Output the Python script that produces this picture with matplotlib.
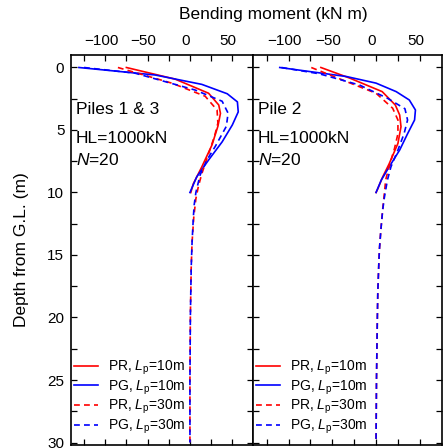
import matplotlib.pyplot as plt
from matplotlib.transforms import ScaledTranslation

plt.rcParams['font.family'] = ['Liberation Sans', 'DejaVu Sans']
plt.rcParams['mathtext.fontset'] = 'custom'
plt.rcParams['mathtext.rm'] = 'Liberation Sans'
plt.rcParams['mathtext.it'] = 'Liberation Sans:italic'

# ---- Piles 1 & 3 ----
d_pg10_a = [0, 0.6, 1.35, 2.1, 2.75, 3.55, 4.6, 5.95, 7.4, 8.75, 10]
m_pg10_a = [-131, -41, 14, 44, 56, 57, 50, 38, 22, 8, 0]
d_pr10_a = [0, 0.93, 2.06, 3.0, 3.67, 4.7, 6.2, 7.95, 9.3, 10]
m_pr10_a = [-75, -17.5, 22, 34, 36, 33, 26, 14, 4, 1]
d_pr30_a = [0, 1.26, 2.3, 3.4, 4.45, 5.5, 6.5, 7.5, 8.5, 9.5, 10.5, 12, 14, 16, 18, 20, 25, 30]
m_pr30_a = [-85, -21, 18, 32, 33, 29, 24, 19, 14, 10, 7, 4.5, 2.5, 1.5, 1, 0.5, 0, 0]
d_pg30_a = [0, 0.45, 1.8, 2.7, 3.65, 4.7, 6.3, 7.4, 8.6, 10, 11, 12, 14, 16, 18, 20, 25, 30]
m_pg30_a = [-125, -65, 6, 38, 45, 43, 30, 20, 12, 7, 5, 4, 2.5, 1.5, 1, 0.5, 0, 0]

# ---- Pile 2 ----
d_pg10_b = [0, 0.72, 1.25, 1.93, 2.6, 3.4, 4.2, 5.3, 6.6, 7.95, 9.0, 10]
m_pg10_b = [-110, -34, 0, 23, 38, 45, 44, 36, 27, 15, 6, 0]
d_pr10_b = [0, 0.85, 1.93, 3.0, 3.8, 4.74, 6.07, 7.7, 8.75, 9.7, 10]
m_pr10_b = [-63, -30, 7, 22, 27, 28.5, 25, 15, 7.6, 2, 0]
d_pr30_b = [0, 1.12, 2.06, 3.26, 4.2, 5.3, 6.5, 7.9, 9, 10.4, 11.4, 13, 14.6, 16, 18, 20, 25, 30]
m_pr30_b = [-74, -34, 0, 19, 25, 25, 21, 15, 11, 9, 7.5, 5.5, 3.8, 3, 2, 1.5, 0.5, 0]
d_pg30_b = [0, 0.5, 1.4, 2.46, 3.3, 4.2, 5.3, 6.6, 7.95, 9, 10.4, 11.4, 13, 14.6, 16, 18, 20, 25, 30]
m_pg30_b = [-108, -65, -19, 13, 33, 36, 32, 25, 17, 13, 9.5, 7.6, 5.5, 3.8, 3, 2, 1.5, 0.5, 0]

panel_titles = ['Piles 1 & 3', 'Pile 2']
labels = ['PR, $L_\\mathrm{p}$=10m', 'PG, $L_\\mathrm{p}$=10m',
          'PR, $L_\\mathrm{p}$=30m', 'PG, $L_\\mathrm{p}$=30m']

W, H = 443, 448
fig = plt.figure(figsize=(W / 100, H / 100), dpi=100)
gs = fig.add_gridspec(1, 2, left=71.3 / W, right=441.7 / W,
                      bottom=1 - 445 / H, top=1 - 55 / H,
                      wspace=0, width_ratios=[182, 188])
axes = [fig.add_subplot(gs[0]), fig.add_subplot(gs[1])]

data = [
    [(m_pr10_a, d_pr10_a), (m_pg10_a, d_pg10_a), (m_pr30_a, d_pr30_a), (m_pg30_a, d_pg30_a)],
    [(m_pr10_b, d_pr10_b), (m_pg10_b, d_pg10_b), (m_pr30_b, d_pr30_b), (m_pg30_b, d_pg30_b)],
]
styles = [('red', '-'), ('blue', '-'), ('red', (0, (3.5, 2.5))), ('blue', (0, (3.5, 2.5)))]

for i, ax in enumerate(axes):
    for (m, d), (c, ls), lab in zip(data[i], styles, labels):
        ax.plot(m, d, color=c, ls=ls, lw=1.2, label=lab)
    ax.set_xlim(-140, 75)
    ax.set_ylim(30.2, -1.0)
    ax.set_xticks([-100, -50, 0, 50])
    ax.set_xticks([-125, -75, -25, 25], minor=True)
    ax.set_yticks([0, 5, 10, 15, 20, 25, 30])
    ax.set_yticks([2.5, 7.5, 12.5, 17.5, 22.5, 27.5], minor=True)
    ax.tick_params(which='both', direction='in', top=True, right=True,
                   bottom=True, left=True, labeltop=True, labelbottom=False,
                   length=4, width=0.9, labelsize=11, pad=5)
    if i == 1:
        ax.tick_params(labelleft=False)
    for sp in ax.spines.values():
        sp.set_linewidth(1.2)
    for t in ax.get_xticklabels():
        t.set_transform(t.get_transform() + ScaledTranslation(-0.04, 0, fig.dpi_scale_trans))

    ax.text(-135, 3.4, panel_titles[i], fontsize=12.5, va='center', ha='left')
    ax.text(-135, 5.65, 'HL=1000kN', fontsize=12.5, va='center', ha='left')
    ax.text(-135, 7.4, '$N$=20', fontsize=12.5, va='center', ha='left')

    ax.legend(loc='lower left', bbox_to_anchor=(0, 0.016), frameon=False,
              fontsize=10, handlelength=1.7, handletextpad=0.75,
              labelspacing=0.1, borderaxespad=0.0, borderpad=0.2)

fig.text(273 / W, 1 - 15 / H, 'Bending moment (kN m)', ha='center', va='center', fontsize=12.5)
fig.text(22 / W, 1 - 250 / H, 'Depth from G.L. (m)', ha='center', va='center',
         rotation=90, fontsize=12.5)

fig.savefig('out.png', dpi=100)
